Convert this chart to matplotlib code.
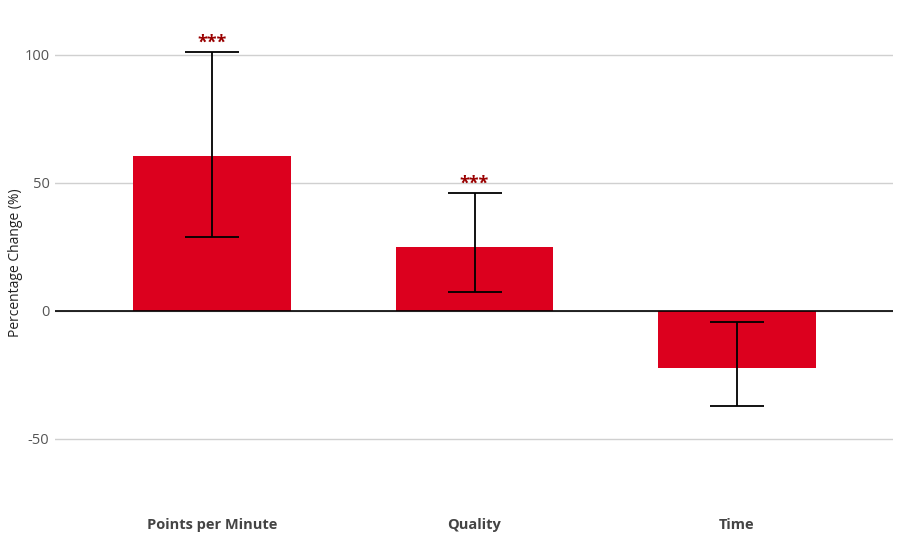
import matplotlib.pyplot as plt
import numpy as np

plt.rcParams['font.family'] = ['Open Sans', 'DejaVu Sans']

categories = ["Points per Minute", "Quality", "Time"]
pct_change = [60.5, 25.0, -22.3]
ci_low = [28.9, 7.4, -37.1]
ci_high = [101.2, 46.1, -4.3]
signif = ["***", "***", ""]

_BAR = "#dc001e"
_STAR = "#990000"
_TEXT = "#444444"
_GRID = "#d0d0d0"

fig = plt.figure(figsize=(9, 5.4), dpi=100)
ax = fig.add_axes([55 / 900, 1 - 507 / 540, (893 - 55) / 900, (507 - 19) / 540])

x = np.arange(len(categories))
vals = np.array(pct_change)
err = np.array([vals - np.array(ci_low), np.array(ci_high) - vals])

ax.bar(x, vals, width=0.6, color=_BAR, zorder=2)
ax.errorbar(x, vals, yerr=err, fmt='none', ecolor='black', elinewidth=1.3,
            capsize=19.5, capthick=1.3, zorder=3)

for xi, hi, s in zip(x, ci_high, signif):
    if s:
        ax.annotate(s, (xi, hi), xytext=(0, 0), textcoords='offset points',
                    ha='center', va='bottom', color=_STAR, fontsize=13,
                    fontweight='bold')

ax.axhline(0, color='black', linewidth=1.2, zorder=2.5)
ax.set_yticks([-50, 0, 50, 100])
ax.set_yticklabels(["-50", "0", "50", "100"])
ax.yaxis.grid(True, color=_GRID, linewidth=1, zorder=0)
ax.set_ylim(-76.6, 114)
ax.set_xlim(-0.598, 2.594)
ax.set_xticks(x)
ax.set_xticklabels(categories, fontweight='bold', fontsize=10.5, color=_TEXT)
ax.tick_params(axis='y', length=0, labelsize=10.5, labelcolor='#555555', pad=4)
ax.tick_params(axis='x', length=0, pad=8)
for s in ax.spines.values():
    s.set_visible(False)
ax.set_ylabel("Percentage Change (%)", fontsize=10, color='#222222', labelpad=1)

fig.savefig("out.png", dpi=100, facecolor='white')
